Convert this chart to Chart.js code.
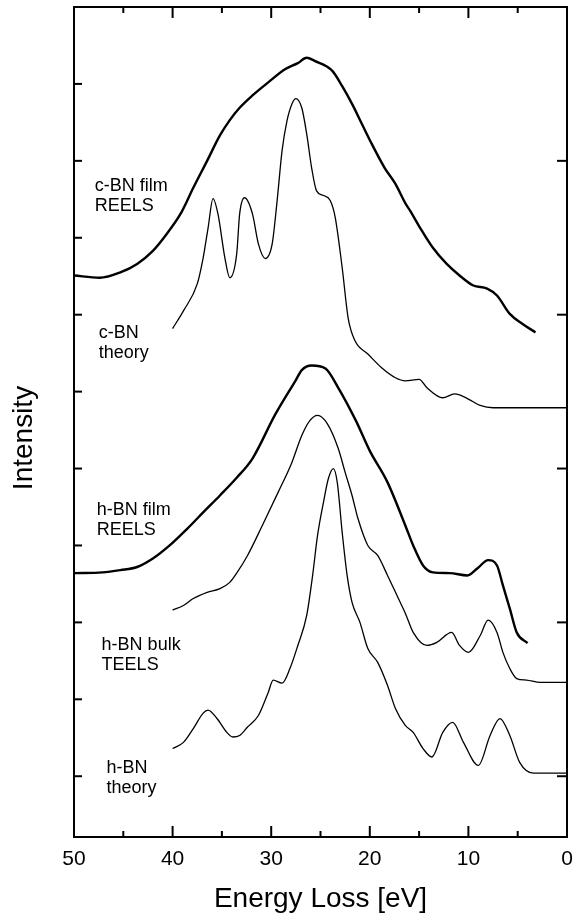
<!DOCTYPE html>
<html>
<head>
<meta charset="utf-8">
<script src="https://cdn.jsdelivr.net/npm/chart.js@4"></script>
<style>
  html, body { margin: 0; padding: 0; background: #fff; }
  #wrap { width: 575px; height: 920px; }
</style>
</head>
<body>
<div id="wrap"><canvas id="c" width="575" height="920"></canvas></div>
<script>
// Energy-loss spectra of boron nitride, stacked with vertical offsets.

// c-BN film, reflection EELS
const cbnFilmE = [50.0, 47.4, 45.3, 43.6, 42.0, 40.6, 39.2, 37.9, 36.5, 35.2, 34.2, 33.2, 31.9, 30.3, 28.6, 27.3, 26.4, 25.6, 23.8, 22.8, 21.8, 20.8, 19.8, 18.5, 17.4, 16.4, 15.9, 14.9, 13.6, 12.2, 10.9, 9.5, 8.1, 7.1, 5.8, 4.5, 3.2];
const cbnFilmI = [6.51, 6.48, 6.55, 6.66, 6.83, 7.05, 7.31, 7.65, 8.00, 8.33, 8.53, 8.69, 8.85, 9.02, 9.19, 9.27, 9.34, 9.30, 9.17, 8.97, 8.74, 8.48, 8.22, 7.91, 7.70, 7.45, 7.35, 7.13, 6.87, 6.66, 6.51, 6.38, 6.34, 6.25, 6.01, 5.88, 5.77];

// c-BN, calculated loss function
const cbnTheoryE = [40.0, 38.9, 37.5, 36.9, 36.4, 35.9, 35.4, 34.7, 34.2, 33.5, 33.2, 32.7, 31.9, 31.3, 30.6, 29.9, 29.4, 28.9, 28.4, 27.9, 27.5, 26.9, 26.4, 25.9, 25.4, 24.7, 24.0, 23.5, 22.8, 22.2, 21.5, 20.2, 18.8, 17.4, 16.4, 15.0, 14.2, 12.6, 11.4, 10.1, 8.8, 7.5, 3.4, 0.0];
const cbnTheoryI = [5.82, 6.05, 6.40, 6.74, 7.13, 7.51, 7.31, 6.74, 6.48, 6.79, 7.31, 7.52, 7.31, 6.92, 6.73, 6.92, 7.48, 8.13, 8.52, 8.74, 8.81, 8.69, 8.35, 7.91, 7.61, 7.55, 7.48, 7.26, 6.61, 5.96, 5.66, 5.49, 5.31, 5.18, 5.14, 5.16, 5.05, 4.92, 4.97, 4.91, 4.82, 4.79, 4.79, 4.79];

// h-BN film, reflection EELS
const hbnFilmE = [50.0, 47.1, 45.3, 43.6, 42.0, 40.3, 38.5, 36.9, 35.2, 33.5, 31.9, 29.6, 27.5, 26.9, 25.9, 24.5, 23.2, 21.4, 20.0, 18.2, 16.4, 15.6, 14.6, 13.6, 11.9, 10.1, 9.1, 8.0, 7.1, 6.5, 5.8, 5.1, 4.0];
const hbnFilmI = [2.64, 2.65, 2.68, 2.72, 2.83, 3.00, 3.22, 3.43, 3.65, 3.88, 4.13, 4.70, 5.15, 5.28, 5.34, 5.30, 5.05, 4.62, 4.23, 3.82, 3.26, 3.00, 2.74, 2.65, 2.64, 2.61, 2.70, 2.81, 2.74, 2.48, 2.18, 1.87, 1.73];

// h-BN bulk, transmission EELS
const hbnBulkE = [40.0, 38.9, 37.9, 36.5, 35.2, 34.2, 33.5, 32.4, 30.9, 29.3, 27.9, 26.9, 26.1, 25.3, 24.3, 23.2, 22.5, 21.8, 21.2, 20.2, 19.2, 18.2, 17.1, 16.4, 15.6, 14.2, 13.2, 11.7, 10.9, 10.0, 8.8, 8.0, 7.1, 6.5, 5.8, 5.1, 4.1, 2.7, 0.0];
const hbnBulkI = [2.16, 2.22, 2.31, 2.39, 2.44, 2.52, 2.64, 2.87, 3.26, 3.69, 4.08, 4.43, 4.62, 4.69, 4.58, 4.26, 3.95, 3.65, 3.35, 3.00, 2.87, 2.61, 2.31, 2.12, 1.87, 1.70, 1.74, 1.87, 1.70, 1.61, 1.83, 2.03, 1.87, 1.61, 1.40, 1.27, 1.25, 1.22, 1.22];

// h-BN, calculated loss function
const hbnTheoryE = [40.0, 38.9, 37.9, 36.9, 36.4, 35.5, 34.5, 33.9, 33.2, 32.4, 31.3, 30.3, 29.8, 28.9, 28.1, 27.3, 26.4, 25.8, 25.3, 24.7, 24.2, 23.7, 23.3, 22.8, 22.3, 21.8, 21.0, 20.2, 19.2, 18.2, 17.4, 16.4, 15.6, 14.6, 13.7, 12.6, 11.6, 10.5, 9.0, 7.8, 6.8, 5.8, 4.8, 3.4, 0.0];
const hbnTheoryI = [0.36, 0.44, 0.62, 0.82, 0.86, 0.75, 0.57, 0.51, 0.53, 0.64, 0.79, 1.09, 1.25, 1.21, 1.40, 1.70, 2.09, 2.61, 3.13, 3.56, 3.87, 4.00, 3.82, 3.17, 2.61, 2.26, 2.00, 1.66, 1.48, 1.18, 0.88, 0.66, 0.57, 0.36, 0.25, 0.57, 0.70, 0.44, 0.14, 0.53, 0.75, 0.53, 0.18, 0.04, 0.04];

// Axis ticks
const xTickLabels = [50, 40, 30, 20, 10, 0];
const xMinorTicks = [45, 35, 25, 15, 5];
const yTicksLeft = [0, 1, 2, 3, 4, 5, 6, 7, 8, 9];
const yTicksRight = [0, 2, 4, 6, 8];

// Curve captions
const captionLines = [
  ['c-BN film', 'REELS'],
  ['c-BN', 'theory'],
  ['h-BN film', 'REELS'],
  ['h-BN bulk', 'TEELS'],
  ['h-BN', 'theory']
];
const captionAnchors = [
  { e: 47.9, y: 7.61 },
  { e: 47.5, y: 5.70 },
  { e: 47.7, y: 3.39 },
  { e: 47.2, y: 1.64 },
  { e: 46.7, y: 0.04 }
];

const yTitle = 'Intensity';
const FONT = '"Liberation Sans", Arial, Helvetica, sans-serif';

function toPoints(es, is) {
  return es.map((e, i) => ({ x: e, y: is[i] }));
}

function curve(es, is, width) {
  return {
    data: toPoints(es, is),
    borderColor: '#000',
    borderWidth: width,
    pointRadius: 0,
    fill: false,
    cubicInterpolationMode: 'monotone'
  };
}

// Frame with inward-pointing tick marks on all four sides
const framePlugin = {
  id: 'frame',
  afterDatasetsDraw(chart) {
    const { ctx, chartArea: a, scales: { x, y } } = chart;
    ctx.save();
    ctx.strokeStyle = '#000';
    ctx.lineWidth = 2;
    ctx.lineCap = 'butt';
    const seg = (x1, y1, x2, y2) => {
      ctx.beginPath(); ctx.moveTo(x1, y1); ctx.lineTo(x2, y2); ctx.stroke();
    };
    xTickLabels.forEach(v => {
      const px = x.getPixelForValue(v);
      seg(px, a.bottom, px, a.bottom - 11);
      seg(px, a.top, px, a.top + 11);
    });
    xMinorTicks.forEach(v => {
      const px = x.getPixelForValue(v);
      seg(px, a.bottom, px, a.bottom - 6);
      seg(px, a.top, px, a.top + 6);
    });
    yTicksLeft.forEach(v => {
      const py = y.getPixelForValue(v);
      seg(a.left, py, a.left + 8, py);
    });
    yTicksRight.forEach(v => {
      const py = y.getPixelForValue(v);
      seg(a.right, py, a.right - 10, py);
    });
    ctx.strokeRect(a.left, a.top, a.right - a.left, a.bottom - a.top);
    ctx.restore();
  }
};

// Two-line captions next to each spectrum, plus the vertical axis title
const captionPlugin = {
  id: 'captions',
  afterDatasetsDraw(chart) {
    const { ctx, scales: { x, y } } = chart;
    ctx.save();
    ctx.fillStyle = '#000';
    ctx.font = '18px ' + FONT;
    ctx.textAlign = 'left';
    ctx.textBaseline = 'alphabetic';
    captionLines.forEach((lines, i) => {
      const px = x.getPixelForValue(captionAnchors[i].e);
      const py = y.getPixelForValue(captionAnchors[i].y);
      lines.forEach((t, k) => ctx.fillText(t, px, py + k * 20));
    });
    // "Intensity", rotated, a little below the middle of the axis
    ctx.translate(24, 438);
    ctx.rotate(-Math.PI / 2);
    ctx.font = '28px ' + FONT;
    ctx.textAlign = 'center';
    ctx.textBaseline = 'middle';
    ctx.fillText(yTitle, 0, 0);
    ctx.restore();
  }
};

new Chart(document.getElementById('c'), {
  type: 'line',
  data: {
    datasets: [
      curve(cbnFilmE, cbnFilmI, 2.4),
      curve(cbnTheoryE, cbnTheoryI, 1.3),
      curve(hbnFilmE, hbnFilmI, 2.4),
      curve(hbnBulkE, hbnBulkI, 1.3),
      curve(hbnTheoryE, hbnTheoryI, 1.3)
    ]
  },
  options: {
    responsive: false,
    animation: false,
    devicePixelRatio: 1,
    layout: { padding: { top: 7, right: 8, left: 0, bottom: 0 } },
    plugins: {
      legend: { display: false },
      tooltip: { enabled: false }
    },
    scales: {
      x: {
        type: 'linear',
        position: 'bottom',
        reverse: true,
        min: 0,
        max: 50,
        afterBuildTicks: s => { s.ticks = xTickLabels.map(v => ({ value: v })); },
        afterFit: s => { s.height = 83; s.paddingLeft = 0; s.paddingRight = 0; },
        grid: { display: false, drawTicks: false },
        border: { display: false },
        ticks: {
          color: '#000',
          font: { family: FONT, size: 21 },
          padding: 10,
          maxRotation: 0,
          autoSkip: false
        },
        title: {
          display: true,
          text: 'Energy Loss [eV]',
          color: '#000',
          font: { family: FONT, size: 28 },
          padding: { top: 0, bottom: 4 }
        }
      },
      y: {
        type: 'linear',
        min: -0.79,
        max: 10,
        afterFit: s => { s.width = 74; },
        grid: { display: false, drawTicks: false },
        border: { display: false },
        ticks: { display: false },
        title: { display: false }
      }
    }
  },
  plugins: [framePlugin, captionPlugin]
});
</script>
</body>
</html>
